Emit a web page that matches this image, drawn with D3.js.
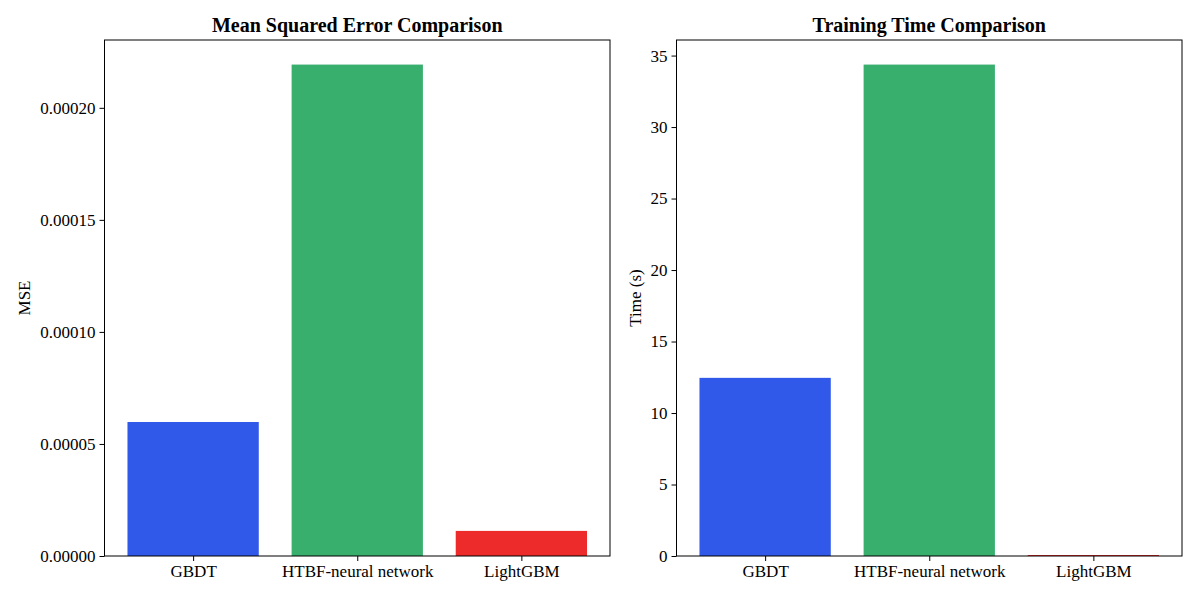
<!DOCTYPE html>
<html>
<head>
<meta charset="utf-8">
<script src="https://cdn.jsdelivr.net/npm/d3@7"></script>
<style>
  body { margin: 0; background: #fff; }
  svg text { font-family: "Liberation Serif", "Times New Roman", serif; fill: #000; }
</style>
</head>
<body>
<svg id="chart" width="1200" height="600"></svg>
<script>
// Data
const models = ["GBDT", "HTBF-neural network", "LightGBM"];
const mseValues = [0.0000598, 0.0002193, 0.0000112];
const timeValues = [12.46, 34.37, 0.07];
const barColors = ["#3159e9", "#38af6d", "#ee2b2b"];
const mseTicks = [0, 0.00005, 0.0001, 0.00015, 0.0002];
const timeTicks = [0, 5, 10, 15, 20, 25, 30, 35];

const svg = d3.select("#chart");

function drawPanel(opts) {
    let left = opts.left, top = 40, width = opts.width, height = 516;
    let g = svg.append("g").attr("transform", "translate(" + left + "," + top + ")");

    // matplotlib style x scale: bars at 0,1,2 with width 0.8 and 5% margins
    let x = d3.scaleLinear().domain([-0.54, 2.54]).range([0, width]);
    let y = d3.scaleLinear().domain([0, d3.max(opts.values) * 1.05]).range([height, 0]);

    g.selectAll(".bar").data(opts.values)
        .enter().append("rect")
        .attr("class", "bar")
        .attr("x", function(d, i) { return x(i - 0.4); })
        .attr("width", function(d, i) { return x(i + 0.4) - x(i - 0.4); })
        .attr("y", function(d) { return y(d); })
        .attr("height", function(d) { return height - y(d); })
        .style("fill", function(d, i) { return barColors[i]; });

    // Y axis
    let yAxis = d3.axisLeft(y).tickValues(opts.ticks).tickSize(5).tickPadding(4)
        .tickFormat(opts.format);
    let ya = g.append("g").call(yAxis);
    ya.select(".domain").remove();
    ya.selectAll("text").style("font-size", "17px");
    ya.selectAll("line").style("stroke", "#000");

    // X axis
    let xAxis = d3.axisBottom(x).tickValues([0, 1, 2]).tickSize(5).tickPadding(4)
        .tickFormat(function(d) { return models[d]; });
    let xa = g.append("g").attr("transform", "translate(0," + height + ")").call(xAxis);
    xa.select(".domain").remove();
    xa.selectAll("text").style("font-size", "17px");
    xa.selectAll("line").style("stroke", "#000");

    // Frame
    g.append("rect")
        .attr("x", 0).attr("y", 0)
        .attr("width", width).attr("height", height)
        .style("fill", "none")
        .style("stroke", "#000")
        .style("stroke-width", 1);

    // Title
    g.append("text")
        .attr("x", width / 2)
        .attr("y", -8)
        .attr("text-anchor", "middle")
        .style("font-size", "20px")
        .style("font-weight", "bold")
        .text(opts.title);

    // Y label
    g.append("text")
        .attr("transform", "translate(" + opts.labelX + "," + (height / 2) + ") rotate(-90)")
        .attr("text-anchor", "middle")
        .style("font-size", "17px")
        .text(opts.ylabel);
}

drawPanel({
    left: 104.5, width: 505.5, values: mseValues, ticks: mseTicks,
    format: d3.format(".5f"), title: "Mean Squared Error Comparison",
    ylabel: "MSE", labelX: -75
});

drawPanel({
    left: 676.5, width: 505.5, values: timeValues, ticks: timeTicks,
    format: d3.format("d"), title: "Training Time Comparison",
    ylabel: "Time (s)", labelX: -36
});
</script>
</body>
</html>
